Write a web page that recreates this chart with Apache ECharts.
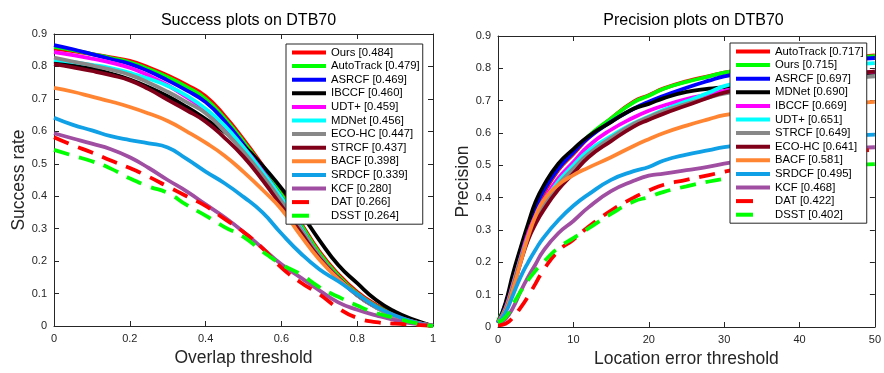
<!DOCTYPE html>
<html>
<head>
<meta charset="utf-8">
<script src="https://cdn.jsdelivr.net/npm/echarts@6/dist/echarts.min.js"></script>
<style>
html,body{margin:0;padding:0;background:#fff;}
#chart{width:884px;height:373px;}
</style>
</head>
<body>
<div id="chart"></div>
<script>
// ---------- Success plot data ----------
const overlapThresholds = [0, 0.05, 0.1, 0.15, 0.2, 0.25, 0.3, 0.35, 0.4, 0.45, 0.5, 0.55, 0.6, 0.65, 0.7, 0.75, 0.8, 0.85, 0.9, 0.95, 1];
const successNames = ['Ours [0.484]', 'AutoTrack [0.479]', 'ASRCF [0.469]', 'IBCCF [0.460]', 'UDT+ [0.459]', 'MDNet [0.456]', 'ECO-HC [0.447]', 'STRCF [0.437]', 'BACF [0.398]', 'SRDCF [0.339]', 'KCF [0.280]', 'DAT [0.266]', 'DSST [0.264]'];
const successOurs      = [0.855, 0.847, 0.838, 0.828, 0.817, 0.797, 0.772, 0.743, 0.708, 0.648, 0.575, 0.495, 0.410, 0.320, 0.230, 0.160, 0.105, 0.065, 0.035, 0.015, 0];
const successAutoTrack = [0.860, 0.850, 0.838, 0.826, 0.813, 0.792, 0.767, 0.737, 0.700, 0.640, 0.568, 0.490, 0.405, 0.315, 0.225, 0.155, 0.100, 0.062, 0.033, 0.014, 0];
const successASRCF     = [0.866, 0.853, 0.838, 0.823, 0.808, 0.785, 0.757, 0.726, 0.690, 0.632, 0.560, 0.478, 0.395, 0.305, 0.215, 0.148, 0.095, 0.058, 0.031, 0.013, 0];
const successIBCCF     = [0.815, 0.805, 0.793, 0.778, 0.760, 0.736, 0.708, 0.675, 0.638, 0.598, 0.555, 0.495, 0.425, 0.350, 0.265, 0.188, 0.132, 0.080, 0.044, 0.019, 0];
const successUDT       = [0.844, 0.835, 0.824, 0.812, 0.796, 0.772, 0.742, 0.705, 0.665, 0.612, 0.552, 0.478, 0.395, 0.305, 0.215, 0.148, 0.095, 0.057, 0.030, 0.012, 0];
const successMDNet     = [0.820, 0.813, 0.805, 0.795, 0.780, 0.762, 0.740, 0.710, 0.670, 0.618, 0.550, 0.475, 0.395, 0.305, 0.215, 0.148, 0.095, 0.057, 0.030, 0.012, 0];
const successECOHC     = [0.827, 0.815, 0.803, 0.790, 0.774, 0.750, 0.722, 0.690, 0.656, 0.600, 0.537, 0.465, 0.385, 0.300, 0.215, 0.148, 0.095, 0.057, 0.030, 0.012, 0];
const successSTRCF     = [0.807, 0.797, 0.786, 0.773, 0.757, 0.730, 0.697, 0.665, 0.630, 0.580, 0.522, 0.450, 0.370, 0.290, 0.210, 0.148, 0.097, 0.060, 0.032, 0.013, 0];
const successBACF      = [0.734, 0.722, 0.707, 0.692, 0.675, 0.655, 0.632, 0.600, 0.565, 0.525, 0.475, 0.420, 0.360, 0.280, 0.205, 0.145, 0.098, 0.060, 0.030, 0.012, 0];
const successSRDCF     = [0.642, 0.620, 0.603, 0.585, 0.573, 0.563, 0.550, 0.515, 0.476, 0.440, 0.398, 0.350, 0.285, 0.225, 0.175, 0.138, 0.098, 0.060, 0.032, 0.012, 0];
const successKCF       = [0.594, 0.578, 0.562, 0.545, 0.520, 0.487, 0.450, 0.415, 0.375, 0.335, 0.290, 0.240, 0.190, 0.150, 0.110, 0.073, 0.050, 0.033, 0.018, 0.007, 0.002];
const successDAT       = [0.582, 0.557, 0.535, 0.510, 0.487, 0.460, 0.430, 0.400, 0.370, 0.330, 0.290, 0.240, 0.180, 0.135, 0.098, 0.055, 0.025, 0.012, 0.007, 0.004, 0];
const successDSST      = [0.543, 0.525, 0.508, 0.485, 0.455, 0.430, 0.410, 0.373, 0.340, 0.305, 0.275, 0.230, 0.190, 0.160, 0.120, 0.090, 0.063, 0.040, 0.025, 0.010, 0];

// ---------- Precision plot data ----------
const errorThresholds = [0, 1, 2, 3, 4, 5, 6, 8, 10, 12, 15, 18, 20, 22, 25, 28, 30, 35, 40, 45, 50];
const precisionNames = ['AutoTrack [0.717]', 'Ours [0.715]', 'ASRCF [0.697]', 'MDNet [0.690]', 'IBCCF [0.669]', 'UDT+ [0.651]', 'STRCF [0.649]', 'ECO-HC [0.641]', 'BACF [0.581]', 'SRDCF [0.495]', 'KCF [0.468]', 'DAT [0.422]', 'DSST [0.402]'];
const precAutoTrack = [0.015, 0.060, 0.140, 0.225, 0.300, 0.360, 0.410, 0.485, 0.535, 0.585, 0.645, 0.697, 0.717, 0.738, 0.760, 0.776, 0.787, 0.805, 0.820, 0.830, 0.840];
const precOurs      = [0.020, 0.070, 0.155, 0.240, 0.310, 0.370, 0.420, 0.490, 0.540, 0.590, 0.645, 0.695, 0.715, 0.737, 0.758, 0.775, 0.787, 0.805, 0.820, 0.830, 0.838];
const precASRCF     = [0.015, 0.065, 0.150, 0.235, 0.310, 0.370, 0.420, 0.490, 0.540, 0.585, 0.635, 0.675, 0.697, 0.715, 0.740, 0.762, 0.775, 0.795, 0.812, 0.825, 0.832];
const precMDNet     = [0.012, 0.075, 0.166, 0.245, 0.320, 0.388, 0.435, 0.505, 0.550, 0.590, 0.634, 0.675, 0.690, 0.708, 0.727, 0.737, 0.742, 0.757, 0.770, 0.780, 0.787];
const precIBCCF     = [0.015, 0.060, 0.135, 0.215, 0.290, 0.345, 0.390, 0.460, 0.510, 0.560, 0.610, 0.648, 0.669, 0.685, 0.705, 0.720, 0.730, 0.750, 0.770, 0.780, 0.790];
const precUDT       = [0.015, 0.055, 0.130, 0.210, 0.280, 0.335, 0.380, 0.450, 0.500, 0.545, 0.590, 0.630, 0.651, 0.672, 0.698, 0.725, 0.745, 0.775, 0.795, 0.808, 0.816];
const precSTRCF     = [0.015, 0.055, 0.130, 0.210, 0.275, 0.330, 0.375, 0.440, 0.490, 0.535, 0.585, 0.628, 0.649, 0.668, 0.690, 0.710, 0.722, 0.740, 0.755, 0.767, 0.775];
const precECOHC     = [0.015, 0.050, 0.120, 0.200, 0.270, 0.320, 0.360, 0.425, 0.475, 0.525, 0.575, 0.620, 0.641, 0.660, 0.685, 0.710, 0.725, 0.750, 0.770, 0.782, 0.790];
const precBACF      = [0.015, 0.050, 0.120, 0.200, 0.280, 0.345, 0.390, 0.440, 0.470, 0.493, 0.525, 0.560, 0.581, 0.600, 0.623, 0.643, 0.655, 0.672, 0.683, 0.690, 0.696];
const precSRDCF     = [0.012, 0.045, 0.100, 0.155, 0.200, 0.240, 0.275, 0.330, 0.375, 0.410, 0.455, 0.482, 0.495, 0.515, 0.533, 0.547, 0.556, 0.572, 0.582, 0.590, 0.595];
const precKCF       = [0.010, 0.025, 0.060, 0.110, 0.155, 0.195, 0.235, 0.290, 0.328, 0.370, 0.420, 0.452, 0.468, 0.474, 0.485, 0.496, 0.505, 0.525, 0.540, 0.550, 0.556];
const precDAT       = [0.005, 0.010, 0.030, 0.060, 0.095, 0.135, 0.175, 0.235, 0.270, 0.310, 0.360, 0.400, 0.422, 0.440, 0.455, 0.470, 0.480, 0.505, 0.525, 0.540, 0.548];
const precDSST      = [0.015, 0.030, 0.070, 0.110, 0.145, 0.175, 0.200, 0.245, 0.275, 0.305, 0.350, 0.388, 0.402, 0.418, 0.435, 0.450, 0.458, 0.475, 0.490, 0.498, 0.504];

const rankColors = ['#FF0000', '#00FF00', '#0000FF', '#000000', '#FF00FF', '#00FFFF', '#888888', '#80001A', '#FF8533', '#10A0E6', '#A04EA2', '#FF0000', '#00FF00'];
const successSets = [successOurs, successAutoTrack, successASRCF, successIBCCF, successUDT, successMDNet, successECOHC, successSTRCF, successBACF, successSRDCF, successKCF, successDAT, successDSST];
const precisionSets = [precAutoTrack, precOurs, precASRCF, precMDNet, precIBCCF, precUDT, precSTRCF, precECOHC, precBACF, precSRDCF, precKCF, precDAT, precDSST];

const FONT = 'Liberation Sans, Arial, Helvetica, sans-serif';
const AXC = '#262626';
const DASH = [16, 10];

function pairs(xs, ys) { return xs.map((x, i) => [x, ys[i]]); }

function makeSeries(names, sets, xs, axisIdx) {
  return names.map((n, i) => ({
    name: n,
    type: 'line',
    xAxisIndex: axisIdx.x,
    yAxisIndex: axisIdx.y,
    data: pairs(xs, sets[i]),
    symbol: 'none',
    smooth: 0.5,
    silent: true,
    lineStyle: {
      color: rankColors[i],
      width: 3.8,
      type: i >= 11 ? DASH : 'solid',
      cap: 'butt'
    },
    itemStyle: { color: rankColors[i] }
  }));
}

function legendData(names) {
  return names.map((n, i) => i >= 11
    ? { name: n, lineStyle: { type: [17, 40], width: 4 } }
    : { name: n, lineStyle: { width: 4 } });
}

function valAxis(gridIndex, pos, min, max, interval, opts) {
  return Object.assign({
    type: 'value', gridIndex: gridIndex, position: pos, min: min, max: max, interval: interval,
    axisLine: { show: true, onZero: false, lineStyle: { color: AXC, width: 1 } },
    axisTick: { show: true, inside: true, length: 5, lineStyle: { color: AXC } },
    splitLine: { show: false },
    axisLabel: { show: false }
  }, opts || {});
}

const labelStyle = { show: true, color: AXC, fontSize: 11, fontFamily: FONT, margin: 7 };
const fmt = v => String(+v.toFixed(2));
const nameStyle = { fontSize: 17.5, color: AXC, fontFamily: FONT };

function legendBox(names, left, top) {
  return {
    data: legendData(names), orient: 'vertical', left: left, top: top, selectedMode: false,
    backgroundColor: '#fff', borderColor: AXC, borderWidth: 1, borderRadius: 0,
    padding: [3, 3, 3, 4], itemWidth: 34, itemHeight: 13, itemGap: 2.6,
    itemStyle: { opacity: 0, borderWidth: 0 },
    textStyle: { fontSize: 11.3, color: '#000', fontFamily: FONT }
  };
}

const option = {
  animation: false,
  backgroundColor: '#ffffff',
  title: [
    { text: 'Success plots on DTB70', left: 243.5, textAlign: 'center', top: 8, textStyle: { fontSize: 16, fontWeight: 'normal', color: '#000', fontFamily: FONT } },
    { text: 'Precision plots on DTB70', left: 688.5, textAlign: 'center', top: 8, textStyle: { fontSize: 16, fontWeight: 'normal', color: '#000', fontFamily: FONT } }
  ],
  grid: [
    { left: 54, top: 34, width: 379, height: 292 },
    { left: 498, top: 36, width: 381, height: 294 }
  ],
  xAxis: [
    valAxis(0, 'bottom', 0, 1, 0.2, { axisLabel: Object.assign({}, labelStyle, { formatter: fmt }), name: 'Overlap threshold', nameLocation: 'middle', nameGap: 23, nameTextStyle: nameStyle }),
    valAxis(0, 'top', 0, 1, 0.2),
    valAxis(1, 'bottom', 0, 50, 10, { axisLabel: Object.assign({}, labelStyle, { formatter: fmt }), name: 'Location error threshold', nameLocation: 'middle', nameGap: 23, nameTextStyle: nameStyle }),
    valAxis(1, 'top', 0, 50, 10)
  ],
  yAxis: [
    valAxis(0, 'left', 0, 0.9, 0.1, { axisLabel: Object.assign({}, labelStyle, { formatter: fmt }), name: 'Success rate', nameLocation: 'middle', nameGap: 24, nameTextStyle: nameStyle }),
    valAxis(0, 'right', 0, 0.9, 0.1),
    valAxis(1, 'left', 0, 0.9, 0.1, { axisLabel: Object.assign({}, labelStyle, { formatter: fmt }), name: 'Precision', nameLocation: 'middle', nameGap: 21, nameTextStyle: nameStyle }),
    valAxis(1, 'right', 0, 0.9, 0.1)
  ],
  legend: [ legendBox(successNames, 286, 44), legendBox(precisionNames, 730, 43) ],
  series: makeSeries(successNames, successSets, overlapThresholds, { x: 0, y: 0 })
    .concat(makeSeries(precisionNames, precisionSets, errorThresholds, { x: 2, y: 2 }))
};

const chart = echarts.init(document.getElementById('chart'), null, { renderer: 'canvas' });
chart.setOption(option);
</script>
</body>
</html>
